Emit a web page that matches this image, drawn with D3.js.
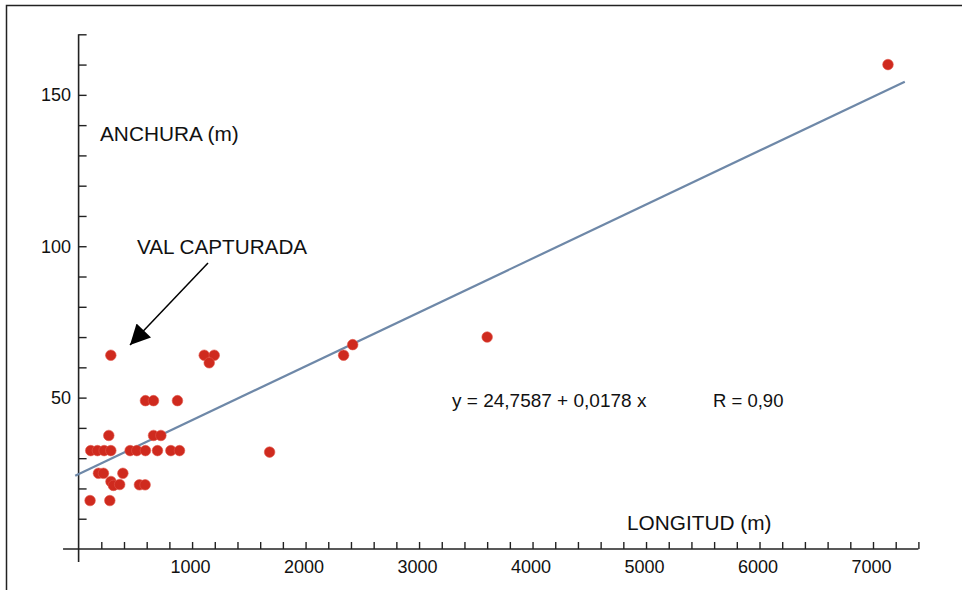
<!DOCTYPE html>
<html>
<head>
<meta charset="utf-8">
<script src="https://cdn.jsdelivr.net/npm/d3@7"></script>
<style>
  body { margin: 0; background: #fff; }
  svg text { font-family: "Liberation Sans", Arial, Helvetica, sans-serif; fill: #111; }
</style>
</head>
<body>
<div id="chart"></div>
<script>
// longitud (m) of each val
var longitud = [284, 1107, 1195, 1151, 589, 660, 871, 266, 660, 725,
  107, 166, 225, 284, 454, 513, 589, 695, 813, 889,
  1683, 175, 219, 390, 285, 307, 362, 536, 586, 101, 275,
  2335, 2415, 3600, 7132];
// anchura (m) of each val
var anchura = [64, 64, 64, 61.5, 49, 49, 49, 37.5, 37.5, 37.5,
  32.5, 32.5, 32.5, 32.5, 32.5, 32.5, 32.5, 32.5, 32.5, 32.5,
  32, 25, 25, 25, 22.3, 21, 21.3, 21.2, 21.2, 16, 16,
  64, 67.5, 70, 160];

var xMajor = [1000, 2000, 3000, 4000, 5000, 6000, 7000];
var yMajor = [50, 100, 150];

// regression
var a = 24.7587, b = 0.0178;
var fitRange = [-30, 7280];

var width = 962, height = 590;

var svg = d3.select("#chart").append("svg")
  .attr("width", width)
  .attr("height", height);

// frame
svg.append("path")
  .attr("d", "M6.5,590 L6.5,5.5 L962,5.5")
  .attr("fill", "none")
  .attr("stroke", "#222")
  .attr("stroke-width", 1.5);

var x = d3.scaleLinear().domain([0, 7400]).range([78.6, 918.4]);
var y = d3.scaleLinear().domain([0, 170]).range([549, 34.3]);

// x axis
var xAxis = d3.axisBottom(x)
  .tickValues(d3.range(200, 7401, 200))
  .tickSize(-7)
  .tickFormat("");
var gx = svg.append("g")
  .attr("transform", "translate(0," + y(0) + ")")
  .call(xAxis);
gx.select(".domain").remove();
gx.selectAll(".tick line").attr("stroke", "#222").attr("stroke-width", 1.4);
gx.append("line")
  .attr("x1", x(-137)).attr("x2", x(7400))
  .attr("stroke", "#222").attr("stroke-width", 1.6);

svg.append("g").selectAll("text")
  .data(xMajor)
  .enter().append("text")
  .attr("x", function(d) { return x(d) - 1.5; })
  .attr("y", 573)
  .attr("text-anchor", "middle")
  .style("font-size", "18px")
  .text(function(d) { return d; });

// y axis
var yAxis = d3.axisRight(y)
  .tickValues(d3.range(10, 171, 10))
  .tickSize(8)
  .tickFormat("");
var gy = svg.append("g")
  .attr("transform", "translate(" + x(0) + ",0)")
  .call(yAxis);
gy.select(".domain").remove();
gy.selectAll(".tick line").attr("stroke", "#222").attr("stroke-width", 1.4);
gy.append("line")
  .attr("y1", y(170)).attr("y2", y(-4.3))
  .attr("stroke", "#222").attr("stroke-width", 1.6);

svg.append("g").selectAll("text")
  .data(yMajor)
  .enter().append("text")
  .attr("x", 71)
  .attr("y", function(d) { return y(d) + 6.5; })
  .attr("text-anchor", "end")
  .style("font-size", "18px")
  .text(function(d) { return d; });

// fit line
svg.append("line")
  .attr("x1", x(fitRange[0])).attr("y1", y(a + b * fitRange[0]))
  .attr("x2", x(fitRange[1])).attr("y2", y(a + b * fitRange[1]))
  .attr("stroke", "#6e88a8")
  .attr("stroke-width", 2.2);

// points
svg.append("g").selectAll("circle")
  .data(longitud)
  .enter().append("circle")
  .attr("cx", function(d) { return x(d); })
  .attr("cy", function(d, i) { return y(anchura[i]); })
  .attr("r", 5.3)
  .attr("fill", "#cf2a1e")
  .attr("stroke", "#e0554a")
  .attr("stroke-width", 0.6);

// labels
function label(txt, px, py, fs) {
  svg.append("text")
    .attr("x", px).attr("y", py)
    .style("font-size", fs + "px")
    .text(txt);
}
label("ANCHURA (m)", 100, 141, 20.8);
label("VAL CAPTURADA", 137, 254, 20.7);
label("LONGITUD (m)", 627, 530, 20.8);
label("y = 24,7587 + 0,0178 x", 452, 407, 19);
label("R = 0,90", 713, 407, 18.5);

// arrow
svg.append("defs").append("marker")
  .attr("id", "head")
  .attr("viewBox", "0 0 10 10")
  .attr("refX", 10).attr("refY", 5)
  .attr("markerUnits", "userSpaceOnUse")
  .attr("markerWidth", 26).attr("markerHeight", 20)
  .attr("orient", "auto")
  .append("path")
  .attr("d", "M0,0 L10,5 L0,10 z")
  .attr("fill", "#000");

svg.append("line")
  .attr("x1", 208).attr("y1", 263)
  .attr("x2", 130).attr("y2", 345)
  .attr("stroke", "#000")
  .attr("stroke-width", 1.5)
  .attr("marker-end", "url(#head)");
</script>
</body>
</html>
